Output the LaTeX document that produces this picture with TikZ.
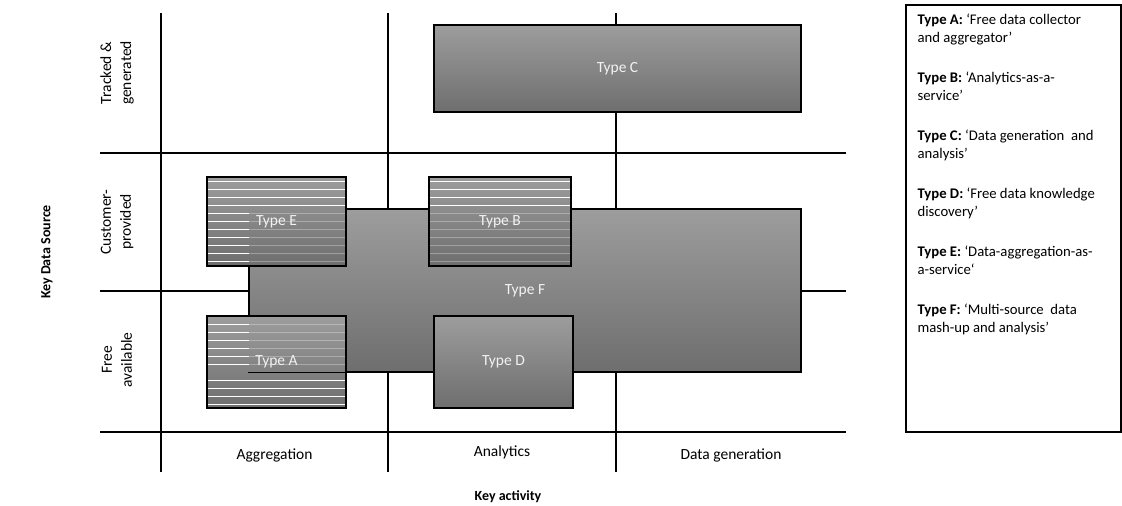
\documentclass[tikz,border=0pt]{standalone}
\usepackage{fontspec}
\setmainfont{Carlito}
\usetikzlibrary{positioning}

\definecolor{tiletop}{RGB}{157,157,157}
\definecolor{tilebottom}{RGB}{110,110,110}
\definecolor{tiletext}{RGB}{242,242,242}

\begin{document}
\begin{tikzpicture}[x=1pt, y=-1pt,
    gridline/.style={line width=1.2pt},
    tile/.style={draw, line width=1.4pt, top color=tiletop, bottom color=tilebottom, inner sep=0pt},
    tilelabel/.style={text=tiletext, font=\fontsize{15.5}{18}\selectfont},
    stripe/.style={white, line width=1pt},
    faintstripe/.style={white, opacity=0.3, line width=1pt},
    axislabel/.style={font=\fontsize{15.5}{20}\selectfont, align=center},
    axistitle/.style={font=\bfseries\fontsize{14}{17}\selectfont},
    legendtext/.style={font=\fontsize{14.7}{18.5}\selectfont, align=left, inner sep=0pt}]
   \useasboundingbox (0,0) rectangle (1122,506);

   % grid
   \foreach \x in {161,388,616}
     \draw[gridline] (\x,13) -- (\x,472);
   \foreach \y in {153,291,432}
     \draw[gridline] (100,\y) -- (846,\y);

   % tiles
   \node[tile, minimum width=552pt, minimum height=163pt] (F) at (525,290.5) {};
   \node[tile, minimum width=367pt, minimum height=87pt] (C) at (617.5,68.5) {};
   \node[tile, minimum width=139pt, minimum height=89pt] (E) at (276.5,221.5) {};
   \node[tile, minimum width=142pt, minimum height=89pt] (B) at (500,221.5) {};
   \node[tile, minimum width=139pt, minimum height=92pt] (A) at (276.5,362) {};
   \node[tile, minimum width=139pt, minimum height=92pt] (D) at (503.5,362) {};

   % stripes
   \foreach \y in {181,189,197,205} {
     \draw[stripe] (208,\y) -- (345,\y);
     \draw[stripe] (430,\y) -- (570,\y);
   }
   \foreach \y in {213,221,229,237,245,253,261} {
     \draw[stripe] (208,\y) -- (249,\y);
     \draw[faintstripe] (249,\y) -- (345,\y);
     \draw[faintstripe] (430,\y) -- (570,\y);
   }
   \foreach \y in {324,332,340,348,356,364} {
     \draw[stripe] (208,\y) -- (249,\y);
     \draw[faintstripe] (249,\y) -- (345,\y);
   }
   \foreach \y in {380,388,396,404}
     \draw[stripe] (208,\y) -- (345,\y);
   \draw[line width=1pt] (F.south west) -- (A.east |- F.south);

   \node[tilelabel] (Flabel) at (F) {Type F};
   \node[tilelabel] (Clabel) at (C) {Type C};
   \node[tilelabel] (Elabel) at (E) {Type E};
   \node[tilelabel] (Blabel) at (B) {Type B};
   \node[tilelabel] (Alabel) at (A) {Type A};
   \node[tilelabel] (Dlabel) at (D) {Type D};

   % axes
   \node[axislabel, rotate=90] (tracked) at (117,73) {Tracked \&\\generated};
   \node[axislabel, rotate=90] (customer) at (117,222) {Customer-\\provided};
   \node[axislabel, rotate=90] (free) at (117,360) {Free\\available};
   \node[axislabel] (aggregation) at (274.5,455) {Aggregation};
   \node[axislabel] (analytics) at (502,452) {Analytics};
   \node[axislabel] (generation) at (731,455) {Data generation};
   \node[axistitle, rotate=90] (source) at (47,252) {Key Data Source};
   \node[axistitle] (activity) at (508,497) {Key activity};

   % legend
   \node[draw, gridline, minimum width=215pt, minimum height=427pt, inner sep=0pt] (legendbox) at (1013.5,218.5) {};
   \node[legendtext, anchor=north west] (legendkey) at ([shift={(12,9)}]legendbox.north west) {%
     \textbf{Type A:} ‘Free data collector\\
     and aggregator’\\[21pt]
     \textbf{Type B:} ‘Analytics-as-a-\\
     service’\\[21pt]
     \textbf{Type C:} ‘Data generation\ \ and\\
     analysis’\\[21pt]
     \textbf{Type D:} ‘Free data knowledge\\
     discovery’\\[21pt]
     \textbf{Type E:} ‘Data-aggregation-as-\\
     a-service‘\\[21pt]
     \textbf{Type F:} ‘Multi-source\ \ data\\
     mash-up and analysis’};
\end{tikzpicture}
\end{document}
